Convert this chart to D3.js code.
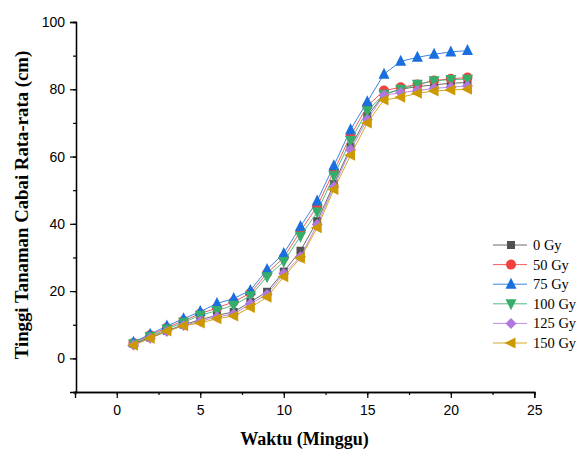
<!DOCTYPE html>
<html><head><meta charset="utf-8">
<script src="https://cdn.jsdelivr.net/npm/d3@7/dist/d3.min.js"></script>
<style>body{margin:0;background:#fff}svg{display:block}</style>
</head><body><svg id="c" width="581" height="450"></svg>
<script>
const weeks = [1,2,3,4,5,6,7,8,9,10,11,12,13,14,15,16,17,18,19,20,21];
const seriesNames = ["0 Gy","50 Gy","75 Gy","100 Gy","125 Gy","150 Gy"];
const gy0   = [4.3,6.2,8.2,10.0,11.5,12.8,13.8,16.8,19.8,25.8,32.0,40.8,51.8,62.8,72.0,78.5,80.0,80.8,81.3,81.8,82.0];
const gy50  = [4.6,6.9,9.1,11.2,13.3,15.0,16.8,19.4,25.3,30.0,37.8,45.2,55.7,66.2,75.0,79.6,80.6,81.4,82.6,83.1,83.5];
const gy75  = [4.8,7.2,9.6,11.8,13.9,16.3,17.8,20.2,26.4,31.2,39.2,46.8,57.3,68.0,76.3,84.5,88.3,89.5,90.4,91.1,91.5];
const gy100 = [4.3,6.5,8.7,10.7,12.8,14.2,15.8,18.6,24.3,28.8,36.3,43.5,54.3,64.8,73.6,78.5,80.0,81.5,82.5,82.9,83.0];
const gy125 = [4.0,6.0,8.0,9.8,11.0,12.3,13.2,16.2,19.0,25.2,30.2,39.8,51.0,62.0,71.0,78.2,79.0,79.6,80.3,80.6,81.0];
const gy150 = [3.9,6.0,8.1,9.7,10.5,11.8,12.6,15.1,18.2,24.3,29.8,38.8,50.2,60.4,70.0,76.8,77.6,78.8,79.5,79.8,80.0];
const xTicks = [0,5,10,15,20,25];
const yTicks = [0,20,40,60,80,100];

const allSeries = [gy0,gy50,gy75,gy100,gy125,gy150];
const colors = ["#515151","#F14040","#1A6FDF","#37AD6B","#B177DE","#CC9900"];
const shapes = ["square","circle","triangle","triangleDown","diamond","triangleLeft"];

const svg = d3.select("#c");
const x = d3.scaleLinear().domain([-2.5,25]).range([75,534.3]);
const y = d3.scaleLinear().domain([-10,100]).range([392,22]);

// axes
const xMinor = d3.range(-2.5,25.01,2.5);
const yMinor = d3.range(-10,100.01,10);
const gx = svg.append("g").attr("transform","translate(0,392)");
gx.call(d3.axisBottom(x).tickValues(xMinor).tickSize(3).tickFormat(""));
gx.append("g").call(d3.axisBottom(x).tickValues(xTicks).tickSize(6).tickPadding(4));
const gy = svg.append("g").attr("transform","translate(76,0)");
gy.call(d3.axisLeft(y).tickValues(yMinor).tickSize(3).tickFormat(""));
gy.append("g").call(d3.axisLeft(y).tickValues(yTicks).tickSize(6).tickPadding(5));
svg.selectAll(".domain").attr("stroke","#000").attr("stroke-width",1.3);
svg.selectAll(".tick line").attr("stroke","#000").attr("stroke-width",1.2);
svg.selectAll(".tick text").attr("font-family","'Liberation Sans',Arial,sans-serif").attr("font-size","14px").attr("fill","#000");
gx.selectAll(".tick text").attr("dy","0.9em");

// titles
svg.append("text").attr("x",304.5).attr("y",445).attr("text-anchor","middle")
  .attr("font-family","'Liberation Serif','Times New Roman',serif").attr("font-weight","bold").attr("font-size","18px")
  .text("Waktu (Minggu)");
svg.append("text").attr("transform","translate(28,205) rotate(-90)").attr("text-anchor","middle")
  .attr("font-family","'Liberation Serif','Times New Roman',serif").attr("font-weight","bold").attr("font-size","18.8px")
  .text("Tinggi Tanaman Cabai Rata-rata (cm)");

function marker(g, shape, color, cx, cy){
  const s = 5.5;
  let el;
  if(shape==="square") el = g.append("rect").attr("x",cx-4).attr("y",cy-4).attr("width",8).attr("height",8);
  else if(shape==="circle") el = g.append("circle").attr("cx",cx).attr("cy",cy).attr("r",5);
  else {
    let pts;
    if(shape==="triangle") pts=[[cx,cy-s-1],[cx+s,cy+s-1],[cx-s,cy+s-1]];
    else if(shape==="triangleDown") pts=[[cx,cy+s+1],[cx+s,cy-s+1],[cx-s,cy-s+1]];
    else if(shape==="diamond") pts=[[cx,cy-5.5],[cx+5.5,cy],[cx,cy+5.5],[cx-5.5,cy]];
    else pts=[[cx-s-1,cy],[cx+s-1,cy-s],[cx+s-1,cy+s]];
    el = g.append("polygon").attr("points",pts.map(p=>p.join(",")).join(" "));
  }
  el.attr("fill",color);
}

const line = d3.line().x((d,i)=>x(weeks[i])).y(d=>y(d));
allSeries.forEach((vals,k)=>{
  const g = svg.append("g");
  g.append("path").datum(vals).attr("d",line).attr("fill","none").attr("stroke",colors[k]).attr("stroke-width",1).attr("stroke-opacity",0.85);
  vals.forEach((v,i)=>marker(g,shapes[k],colors[k],x(weeks[i]),y(v)));
});

// legend
const lg = svg.append("g");
seriesNames.forEach((n,k)=>{
  const ly = 245 + k*19.6;
  lg.append("line").attr("x1",493).attr("x2",527).attr("y1",ly).attr("y2",ly).attr("stroke",colors[k]).attr("stroke-width",1).attr("stroke-opacity",0.85);
  marker(lg,shapes[k],colors[k],511,ly);
  lg.append("text").attr("x",533).attr("y",ly+5).attr("font-family","'Liberation Serif','Times New Roman',serif").attr("font-size","14.5px").text(n);
});
</script></body></html>
